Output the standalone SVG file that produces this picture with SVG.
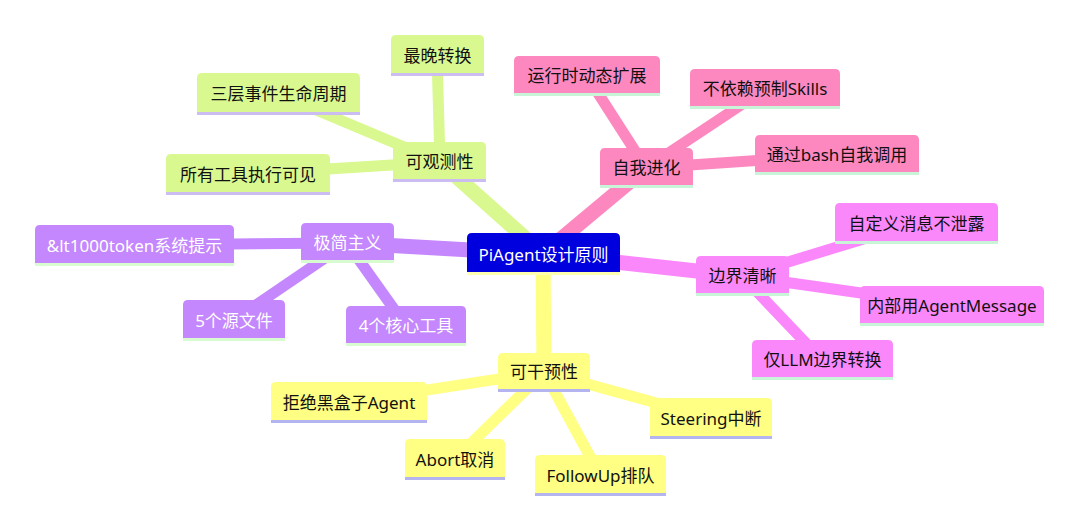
<svg xmlns="http://www.w3.org/2000/svg" width="1080" height="531" viewBox="0 0 1080 531">
<style>
text{font-family:"Noto Sans","Noto Sans CJK SC",sans-serif;font-size:17px;text-anchor:middle;dominant-baseline:central}
.e0{stroke-width:15;stroke-linecap:butt;fill:none}
.e1{stroke-width:11;stroke-linecap:butt;fill:none}
.lime{fill:#d9f990;stroke:#d9f990}
.pink{fill:#fd88c0;stroke:#fd88c0}
.mag{fill:#fb88fb;stroke:#fb88fb}
.pur{fill:#c487fd;stroke:#c487fd}
.yel{fill:#ffff84;stroke:#ffff84}
.edges .lime,.edges .pink,.edges .mag,.edges .pur,.edges .yel{fill:none}
.node path{stroke:none}
.tb{fill:#111}
.tw{fill:#fff}
.bl{fill:#cbbcf2}
.bm{fill:#c8f5d8}
.bg{fill:#d8fcd0}
.by{fill:#b4b4f0}
</style>
<rect width="1080" height="531" fill="#fff"/>
<g id="connectors" class="edges">
<line class="e0 lime" x1="543" y1="254" x2="440" y2="162"/>
<line class="e0 pink" x1="543" y1="254" x2="646" y2="168"/>
<line class="e0 mag" x1="543" y1="254" x2="742" y2="276"/>
<line class="e0 pur" x1="543" y1="254" x2="347" y2="243"/>
<line class="e0 yel" x1="543" y1="254" x2="544" y2="372"/>
<line class="e1 lime" x1="440" y1="162" x2="437" y2="56"/>
<line class="e1 lime" x1="440" y1="162" x2="278" y2="94"/>
<line class="e1 lime" x1="440" y1="162" x2="248" y2="174"/>
<line class="e1 pink" x1="646" y1="168" x2="587" y2="76"/>
<line class="e1 pink" x1="646" y1="168" x2="765" y2="89"/>
<line class="e1 pink" x1="646" y1="168" x2="837" y2="155"/>
<line class="e1 mag" x1="742" y1="276" x2="916" y2="223"/>
<line class="e1 mag" x1="742" y1="276" x2="952" y2="306"/>
<line class="e1 mag" x1="742" y1="276" x2="822" y2="360"/>
<line class="e1 pur" x1="347" y1="243" x2="134" y2="245"/>
<line class="e1 pur" x1="347" y1="243" x2="234" y2="320"/>
<line class="e1 pur" x1="347" y1="243" x2="406" y2="326"/>
<line class="e1 yel" x1="544" y1="372" x2="349" y2="402"/>
<line class="e1 yel" x1="544" y1="372" x2="455" y2="459"/>
<line class="e1 yel" x1="544" y1="372" x2="711" y2="418"/>
<line class="e1 yel" x1="544" y1="372" x2="600" y2="475"/>
</g>
<g id="root" class="node">
<path d="M467,275V238Q467,233 472,233H615Q620,233 620,238V275Z" fill="#0000de"/>
<rect x="467" y="272" width="153" height="3" fill="#ffffb0"/>
<text class="tw" x="543.5" y="254">PiAgent设计原则</text>
</g>
<g id="n-observe" class="node">
<path class="lime" d="M393,182V147Q393,142 398,142H481Q486,142 486,147V182Z"/>
<rect class="bl" x="393" y="179" width="93" height="3"/>
<text class="tb" x="439.5" y="161">可观测性</text>
</g>
<g id="n-latest" class="node">
<path class="lime" d="M391,76V40Q391,35 396,35H479Q484,35 484,40V76Z"/>
<rect class="bl" x="391" y="73" width="93" height="3"/>
<text class="tb" x="437.5" y="55">最晚转换</text>
</g>
<g id="n-lifecycle" class="node">
<path class="lime" d="M197,115V78Q197,73 202,73H355Q360,73 360,78V115Z"/>
<rect class="bl" x="197" y="112" width="163" height="3"/>
<text class="tb" x="278.5" y="93">三层事件生命周期</text>
</g>
<g id="n-visible" class="node">
<path class="lime" d="M166,195V159Q166,154 171,154H325Q330,154 330,159V195Z"/>
<rect class="bl" x="166" y="192" width="164" height="3"/>
<text class="tb" x="248" y="174">所有工具执行可见</text>
</g>
<g id="n-minimal" class="node">
<path class="pur" d="M301,263V228Q301,223 306,223H389Q394,223 394,228V263Z"/>
<rect class="bg" x="301" y="260" width="93" height="3"/>
<text class="tw" x="347.5" y="242">极简主义</text>
</g>
<g id="n-prompt" class="node">
<path class="pur" d="M35,266V230Q35,225 40,225H229Q234,225 234,230V266Z"/>
<rect class="bg" x="35" y="263" width="199" height="3"/>
<text class="tw" x="134.5" y="245">&amp;lt1000token系统提示</text>
</g>
<g id="n-files" class="node">
<path class="pur" d="M183,341V305Q183,300 188,300H280Q285,300 285,305V341Z"/>
<rect class="bg" x="183" y="338" width="102" height="3"/>
<text class="tw" x="234" y="320">5个源文件</text>
</g>
<g id="n-tools" class="node">
<path class="pur" d="M346,346V311Q346,306 351,306H461Q466,306 466,311V346Z"/>
<rect class="bg" x="346" y="343" width="120" height="3"/>
<text class="tw" x="406" y="325">4个核心工具</text>
</g>
<g id="n-evolve" class="node">
<path class="pink" d="M600,188V153Q600,148 605,148H688Q693,148 693,153V188Z"/>
<rect class="bm" x="600" y="185" width="93" height="3"/>
<text class="tb" x="646.5" y="167">自我进化</text>
</g>
<g id="n-runtime" class="node">
<path class="pink" d="M514,96V61Q514,56 519,56H655Q660,56 660,61V96Z"/>
<rect class="bm" x="514" y="93" width="146" height="3"/>
<text class="tb" x="587" y="75">运行时动态扩展</text>
</g>
<g id="n-skills" class="node">
<path class="pink" d="M690,109V74Q690,69 695,69H835Q840,69 840,74V109Z"/>
<rect class="bm" x="690" y="106" width="150" height="3"/>
<text class="tb" x="765" y="88">不依赖预制Skills</text>
</g>
<g id="n-bash" class="node">
<path class="pink" d="M755,175V140Q755,135 760,135H914Q919,135 919,140V175Z"/>
<rect class="bm" x="755" y="172" width="164" height="3"/>
<text class="tb" x="837" y="154">通过bash自我调用</text>
</g>
<g id="n-boundary" class="node">
<path class="mag" d="M696,296V261Q696,256 701,256H784Q789,256 789,261V296Z"/>
<rect class="bm" x="696" y="293" width="93" height="3"/>
<text class="tb" x="742.5" y="275">边界清晰</text>
</g>
<g id="n-noleak" class="node">
<path class="mag" d="M835,244V208Q835,203 840,203H993Q998,203 998,208V244Z"/>
<rect class="bm" x="835" y="241" width="163" height="3"/>
<text class="tb" x="916.5" y="223">自定义消息不泄露</text>
</g>
<g id="n-agentmsg" class="node">
<path class="mag" d="M860,326V291Q860,286 865,286H1039Q1044,286 1044,291V326Z"/>
<rect class="bm" x="860" y="323" width="184" height="3"/>
<text class="tb" x="952" y="305">内部用AgentMessage</text>
</g>
<g id="n-llm" class="node">
<path class="mag" d="M752,380V345Q752,340 757,340H888Q893,340 893,345V380Z"/>
<rect class="bm" x="752" y="377" width="141" height="3"/>
<text class="tb" x="822.5" y="359">仅LLM边界转换</text>
</g>
<g id="n-intervene" class="node">
<path class="yel" d="M498,392V358Q498,353 503,353H585Q590,353 590,358V392Z"/>
<rect class="by" x="498" y="389" width="92" height="3"/>
<text class="tb" x="544" y="371">可干预性</text>
</g>
<g id="n-blackbox" class="node">
<path class="yel" d="M271,423V387Q271,382 276,382H422Q427,382 427,387V423Z"/>
<rect class="by" x="271" y="420" width="156" height="3"/>
<text class="tb" x="349" y="402">拒绝黑盒子Agent</text>
</g>
<g id="n-abort" class="node">
<path class="yel" d="M405,480V444Q405,439 410,439H500Q505,439 505,444V480Z"/>
<rect class="by" x="405" y="477" width="100" height="3"/>
<text class="tb" x="455" y="459">Abort取消</text>
</g>
<g id="n-steering" class="node">
<path class="yel" d="M650,439V403Q650,398 655,398H767Q772,398 772,403V439Z"/>
<rect class="by" x="650" y="436" width="122" height="3"/>
<text class="tb" x="711" y="418">Steering中断</text>
</g>
<g id="n-followup" class="node">
<path class="yel" d="M535,496V460Q535,455 540,455H661Q666,455 666,460V496Z"/>
<rect class="by" x="535" y="493" width="131" height="3"/>
<text class="tb" x="600.5" y="475">FollowUp排队</text>
</g>
</svg>
